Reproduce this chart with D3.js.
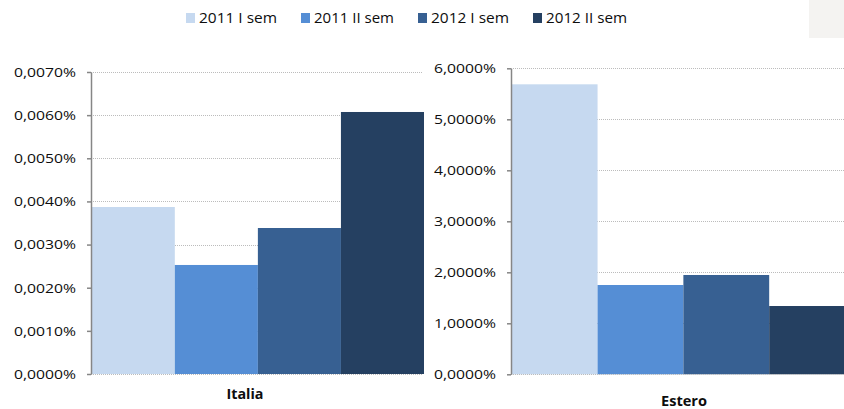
<!DOCTYPE html>
<html>
<head>
<meta charset="utf-8">
<script src="https://cdn.jsdelivr.net/npm/d3@7"></script>
<style>
  body { margin: 0; background: #fff; }
  svg { display: block; font-family: "Open Sans", "Noto Sans", sans-serif; }
</style>
</head>
<body>
<svg id="chart" width="844" height="409"></svg>
<script>
// Series (legend order) and their fill colours
const series = ["2011 I sem", "2011 II sem", "2012 I sem", "2012 II sem"];
const seriesColors = ["#c6d9f0", "#558ed5", "#376092", "#254061"];

// Values in percent, one per series
const italiaValues = [0.003871, 0.002527, 0.003384, 0.006073];
const esteroValues = [5.686, 1.751, 1.947, 1.339];

// Axis ticks (percent)
const italiaTicks = [0, 0.001, 0.002, 0.003, 0.004, 0.005, 0.006, 0.007];
const esteroTicks = [0, 1, 2, 3, 4, 5, 6];

const itFormat = d3.formatLocale({ decimal: ",", thousands: ".", grouping: [3], currency: ["", " €"] });
const pct = v => itFormat.format(".4f")(v) + "%";

const svg = d3.select("#chart");

// Small paper-like patch in the top-right corner
svg.append("rect").attr("x", 809).attr("y", 0).attr("width", 35).attr("height", 38).attr("fill", "#f4f3f1");

// Legend
const legendLayout = { x: 186, y: 13, sw: 9, sh: 10, gap: 4, widths: [78, 80, 78, 81], spacing: 24 };
let lx = legendLayout.x;
series.forEach((name, i) => {
  const g = svg.append("g");
  g.append("rect").attr("x", lx).attr("y", legendLayout.y)
    .attr("width", legendLayout.sw).attr("height", legendLayout.sh).attr("fill", seriesColors[i]);
  g.append("text").attr("x", lx + legendLayout.sw + legendLayout.gap).attr("y", 23)
    .attr("font-size", 14).attr("fill", "#0d0d0d")
    .attr("textLength", legendLayout.widths[i]).attr("lengthAdjust", "spacingAndGlyphs")
    .text(name);
  lx += legendLayout.sw + legendLayout.gap + legendLayout.widths[i] + legendLayout.spacing;
});

const panels = [
  { name: "Italia", values: italiaValues, ticks: italiaTicks,
    x: [91, 424], gridEnd: 422, y: [374, 72], labelX: 245, labelY: 399, labelW: 37 },
  { name: "Estero", values: esteroValues, ticks: esteroTicks,
    x: [511, 855], gridEnd: 844, y: [374.3, 68.3], labelX: 684, labelY: 405.5, labelW: 46 }
];

panels.forEach(p => {
  const yScale = d3.scaleLinear()
    .domain([0, d3.max(p.ticks)])
    .range(p.y);
  const xScale = d3.scaleBand()
    .domain(series)
    .range([p.x[0] + 0.75, p.x[1]])
    .paddingInner(0).paddingOuter(0);

  const g = svg.append("g");

  // dotted gridlines
  g.append("g").selectAll("line")
    .data(p.ticks.filter(t => t > 0))
    .join("line")
    .attr("x1", p.x[0]).attr("x2", p.gridEnd)
    .attr("y1", d => Math.round(yScale(d)) + 0.5).attr("y2", d => Math.round(yScale(d)) + 0.5)
    .attr("stroke", "#bcbcbc").attr("stroke-width", 1).attr("stroke-dasharray", "1,1");

  // bars
  g.append("g").selectAll("rect")
    .data(p.values.map((v, i) => ({ s: series[i], v, c: seriesColors[i] })))
    .join("rect")
    .attr("x", d => xScale(d.s))
    .attr("width", xScale.bandwidth())
    .attr("y", d => yScale(d.v))
    .attr("height", d => yScale(0) - yScale(d.v))
    .attr("fill", d => d.c);

  // dotted baseline
  g.append("line")
    .attr("x1", p.x[0]).attr("x2", p.gridEnd)
    .attr("y1", Math.round(yScale(0)) + 0.5).attr("y2", Math.round(yScale(0)) + 0.5)
    .attr("stroke", "#bcbcbc").attr("stroke-width", 1).attr("stroke-dasharray", "1,1");

  // value axis
  const axis = d3.axisLeft(yScale).tickValues(p.ticks).tickSize(4).tickSizeOuter(0).tickFormat(pct).tickPadding(11);
  const ag = g.append("g").attr("transform", `translate(${p.x[0]},0)`).call(axis);
  ag.select(".domain").attr("stroke", "#868686").attr("stroke-width", 1.5);
  ag.selectAll(".tick line").attr("stroke", "#868686").attr("stroke-width", 1.5);
  ag.selectAll(".tick text")
    .attr("font-size", 13.5).attr("fill", "#0d0d0d")
    .attr("font-family", "'Open Sans', 'Noto Sans', sans-serif")
    .attr("textLength", 62).attr("lengthAdjust", "spacingAndGlyphs");

  // category label
  g.append("text")
    .attr("x", p.labelX).attr("y", p.labelY)
    .attr("text-anchor", "middle")
    .attr("font-size", 14).attr("font-weight", "bold").attr("fill", "#0d0d0d")
    .attr("textLength", p.labelW).attr("lengthAdjust", "spacingAndGlyphs")
    .text(p.name);
});
</script>
</body>
</html>
